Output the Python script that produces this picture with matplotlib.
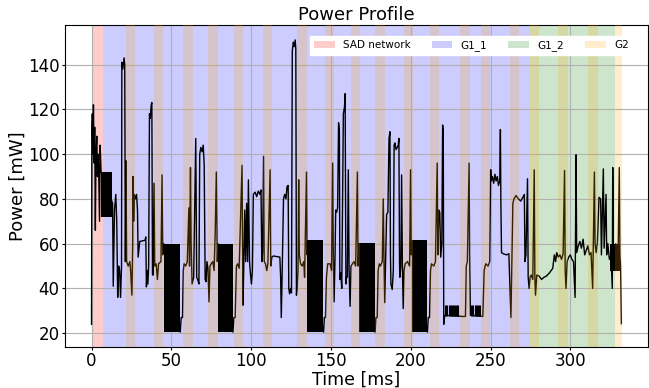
import numpy as np
import matplotlib
matplotlib.use("Agg")
import matplotlib.pyplot as plt

# power trace breakpoints (time in ms, power in mW)
t = [0, 0.2, 0.5, 0.8, 1.2, 1.6, 2.0, 2.4, 2.8, 3.3, 3.7, 4.3, 5.0, 5.4, 6.0,
     13.2, 13.6, 14.4, 15.2, 15.8, 16.4, 17.0, 17.6, 18.2, 18.8, 19.0, 19.6, 20.4, 20.8,
     21.2, 21.6, 22.0, 23.0, 24.0, 24.5, 25.3, 25.8, 26.0, 26.4, 26.8, 27.5, 28.2, 28.8,
     29.2, 29.8, 30.2, 33.5, 34.0, 34.4, 34.8, 35.3, 35.8, 36.3, 36.8, 37.4, 37.8, 38.2,
     38.6, 39.2, 39.6, 40.5, 41.3, 42.0, 43.5, 44.2, 44.6, 45.2,
     55.6, 56.2, 57.0, 57.5, 58.0, 59.0, 60.0, 61.0, 61.4, 62.0, 62.4, 63.0, 64.0, 65.3,
     65.9, 66.5, 67.3, 67.8, 68.5, 69.3, 70.0, 70.6, 71.2, 71.8, 72.3, 73.0, 73.6, 74.2,
     75.0, 76.0, 76.8, 77.5, 78.2, 78.8, 79.2,
     88.6, 89.2, 90.0, 90.8, 91.5, 92.5, 94.3, 94.6, 94.9, 95.4, 96.0, 96.6, 97.2, 97.8,
     98.3, 99.0, 99.5, 100.2, 100.8, 101.4, 102.5, 103.5, 104.5, 105.5, 106.2, 106.7,
     107.2, 107.8, 108.2, 109.0, 109.8, 110.5, 111.9, 112.3, 113.0, 114.0, 118.0, 118.5,
     118.9, 119.4, 120.3, 121.0, 121.8, 122.5, 123.2, 123.6, 124.1, 124.7, 125.3, 125.8,
     126.4, 127.0, 127.6, 128.0, 128.4, 128.8, 129.4, 129.8, 130.2, 131.0, 132.0, 133.0,
     133.5, 134.7, 135.0, 135.2,
     145.4, 145.9, 146.6, 147.2, 148.0, 149.5, 150.4, 151.1, 151.5, 152.0, 152.6, 153.0,
     153.6, 154.2, 154.8, 155.3, 155.6, 156.2, 156.8, 157.8, 158.5, 158.9, 159.4, 159.7,
     160.3, 160.9, 161.4, 162.0, 162.6, 163.5, 164.5, 165.5, 166.6, 167.0, 167.6,
     177.7, 178.2, 179.0, 179.6, 180.3, 181.0, 182.2, 182.8, 183.2, 183.7, 184.2, 184.9,
     185.7, 186.4, 187.0, 187.3, 187.6, 188.4, 189.1, 189.6, 190.1, 190.8, 191.6, 192.2,
     192.6, 193.0, 193.2, 193.8, 194.3, 194.8, 195.3, 195.8, 196.5, 198.0, 199.3, 199.9,
     200.3, 200.6,
     210.5, 211.0, 211.8, 212.4, 213.0, 214.5, 215.5, 216.6, 217.0, 217.6, 218.2, 218.8,
     219.5, 220.0, 220.4, 220.7, 221.3, 232.5, 234.3, 234.8, 235.5, 236.6, 236.9, 237.4,
     237.6, 245.2, 246.0, 247.0, 248.5, 249.5, 250.1, 250.5, 251.2, 252.0, 252.8, 253.5,
     254.3, 255.0, 255.8, 256.2, 256.5, 256.9, 258.0, 260.0, 261.5, 262.2, 262.8, 263.3,
     264.0, 264.7, 266.0, 267.5, 269.0, 270.5, 271.2, 271.6, 272.2, 273.2, 273.6, 274.2,
     274.8, 275.5, 276.5, 277.4, 277.8, 278.2, 279.0, 280.5, 282.0, 283.5, 285.0, 287.0,
     288.0, 289.0, 290.0, 290.8, 291.5, 292.5, 293.5, 294.5, 295.5, 296.4, 296.8, 297.3,
     298.0, 299.0, 300.0, 301.0, 302.0, 303.0, 303.6, 304.0, 305.0, 306.0, 307.0, 308.0,
     309.0, 310.0, 311.0, 312.0, 313.0, 314.0, 315.1, 315.5, 316.2, 317.0, 318.0, 319.0,
     319.5, 320.7, 321.2, 322.4, 322.8, 323.5, 324.5, 325.5, 326.3, 326.6, 327.0, 327.6,
     328.5, 329.2, 330.0, 330.7, 331.1, 331.5, 332.0]
p = [24, 110, 118, 100, 122, 96, 112, 66, 100, 108, 90, 100, 70, 104, 92,
     78, 41, 75, 82, 70, 36, 50, 48, 36, 50, 141, 138, 143, 140,
     52, 97, 52, 50, 52, 48, 37, 60, 90, 70, 82, 80, 82, 75,
     54, 58, 61, 61.5, 63, 40.7, 48, 42, 50, 118, 116, 122, 123, 46,
     46, 87, 50, 51, 44, 51, 52, 90.7, 55, 60,
     20.5, 27, 27, 48, 51, 50, 52, 76, 50, 94, 60, 42, 45, 107,
     45, 44, 42, 100, 103, 101, 104, 95, 44, 43, 52, 49, 34, 50,
     51, 52, 48, 65, 92, 52, 60,
     20.5, 27, 27, 50, 51, 49, 95, 60, 32.5, 50, 75, 52, 78, 52,
     88.5, 52, 47, 42, 48, 82, 83, 81, 83.5, 82, 84, 52,
     56, 99, 52, 51, 48, 51, 93, 50, 54, 54.5, 54, 45,
     27, 45, 80, 82, 80, 85.5, 86, 40, 37.6, 40, 38, 146,
     150, 148, 151, 147, 37, 40, 48, 88.5, 55, 51, 50, 52,
     45, 92, 55, 61,
     20.5, 27, 27, 45, 51, 51, 48, 96, 55, 34, 55, 75,
     74, 76, 114, 110, 44, 47, 40, 118, 121, 127, 42, 45,
     45, 93, 48, 32, 50, 51, 52, 50, 92, 50, 60,
     20.5, 27, 27, 48, 51, 50, 52, 80, 55, 33.7, 50, 73,
     74, 107, 110, 55, 42, 39.5, 48, 104, 105, 102, 103, 104,
     107, 50, 45, 50, 90.7, 50, 31, 48, 51, 52, 50, 93,
     55, 61,
     20.5, 27, 27, 48, 51, 50, 52, 96, 55, 75, 74, 54,
     60, 113, 110, 24, 28, 27.5, 27.5, 50, 52, 96, 55, 28,
     28, 27.5, 48, 51, 50, 52, 93, 88, 90, 87, 91, 88,
     90, 86, 88, 111, 78, 56, 55.5, 55, 55.5, 40, 27, 48,
     78, 80, 81.5, 80, 79, 81, 82, 52, 55, 89, 45, 40,
     45, 46, 44, 93, 45, 37, 46, 45.5, 44, 45, 45.5, 47,
     48, 49, 55, 52, 56, 54, 55, 53, 55.5, 92.7, 48, 40,
     52, 54, 55, 53, 52, 36, 99.7, 56, 59, 61, 58, 62,
     55, 57, 59, 55, 56, 40, 92, 60, 56, 61, 80.7, 80,
     55, 93.4, 58, 82, 55, 60, 53, 55, 40, 94, 57, 50,
     60, 52, 58, 94, 55, 50, 24.3]

# dense switching bursts (start, end, low, high)
burst_start = [6.0, 45.3, 79.3, 135.3, 167.8, 200.7, 325.0]
burst_end = [13.0, 55.5, 88.5, 145.3, 177.6, 210.3, 331.0]
burst_low = [72, 20.5, 20.5, 20.5, 20.5, 20.5, 48]
burst_high = [92, 60, 60, 61.5, 60.5, 61.5, 60]

# small comb pulses
comb_times = [221.6, 222.3, 223.0, 223.7, 224.4, 225.1, 225.8, 226.5, 227.2, 227.9,
              228.6, 229.3, 229.9, 237.9, 238.6, 239.3, 240.0, 240.7, 241.4, 242.1,
              242.8, 243.4]
comb_low = 27.5
comb_high = 32.5

# phases
sad_span = (0, 6.9)
g1_1_span = (6.9, 274.4)
g1_2_span = (274.4, 327.9)
g2_starts = [21.3, 39.4, 57.5, 73.1, 89.2, 107.3, 128.6, 146.3, 162.3, 177.5, 195.6,
             211.9, 231.1, 243.8, 262.1, 274.4, 292.5, 310.8, 327.9]
g2_ends = [27.3, 45.0, 63.3, 79.2, 95.2, 113.3, 134.8, 152.1, 168.1, 183.6, 201.3,
           217.9, 236.9, 249.8, 267.7, 280.6, 298.3, 317.3, 332.1]

fig = plt.figure(figsize=(6.49, 3.88), dpi=100)
ax = fig.add_axes([0.1002, 0.1064, 0.8983, 0.8284])

ax.plot(t, p, color="black", linewidth=1, zorder=2)
for s, e, lo, hi in zip(burst_start, burst_end, burst_low, burst_high):
    ax.fill_between([s, e], lo, hi, color="black", linewidth=0, zorder=2)
ax.vlines(comb_times, comb_low, comb_high, color="black", linewidth=0.8, zorder=2)

ax.axvspan(*sad_span, color="red", alpha=0.2, lw=0, zorder=1, label="SAD network")
ax.axvspan(*g1_1_span, color="blue", alpha=0.2, lw=0, zorder=1, label="G1_1")
ax.axvspan(*g1_2_span, color="green", alpha=0.2, lw=0, zorder=1, label="G1_2")
for i, (s, e) in enumerate(zip(g2_starts, g2_ends)):
    ax.axvspan(s, e, color="orange", alpha=0.2, lw=0, zorder=3,
               label="G2" if i == 0 else None)

ax.set_title("Power Profile", fontsize=13, pad=4)
ax.set_xlabel("Time [ms]", fontsize=12.5, labelpad=0)
ax.set_ylabel("Power [mW]", fontsize=13, labelpad=1)
ax.tick_params(labelsize=12, length=2, pad=2)
ax.set_yticks([20, 40, 60, 80, 100, 120, 140])
ax.grid(True)
ax.legend(ncol=4, fontsize=7.5, loc="upper right", bbox_to_anchor=(0.974, 0.967),
          borderaxespad=0, framealpha=1, edgecolor="white", fancybox=False)

fig.savefig("out.png", dpi=100)
